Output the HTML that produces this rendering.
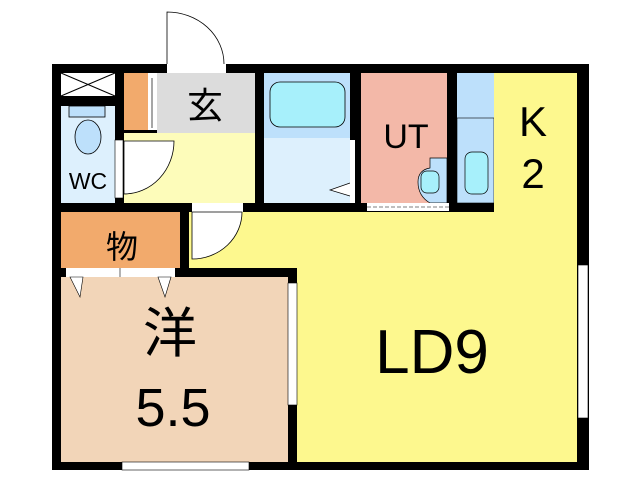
<!DOCTYPE html>
<html><head><meta charset="utf-8"><style>
html,body{margin:0;padding:0;background:#fff;width:640px;height:480px;overflow:hidden}
text{font-family:"Liberation Sans","Noto Sans CJK JP",sans-serif;fill:#000}
</style></head><body>
<svg width="640" height="480" viewBox="0 0 640 480" xmlns="http://www.w3.org/2000/svg">
<rect x="52" y="64" width="537" height="406" fill="#000"/>
<rect x="61" y="73" width="54" height="23" fill="#fff"/>
<path d="M61 73 L115 96 M115 73 L61 96" stroke="#000" stroke-width="1"/>
<rect x="61" y="106" width="54" height="97" fill="#ddf0fd"/>
<rect x="69" y="106" width="36" height="11" fill="#bde0fb" stroke="#000" stroke-width="0.8"/>
<ellipse cx="88" cy="137" rx="13" ry="17" fill="#bde0fb" stroke="#000" stroke-width="0.8"/>
<rect x="124" y="73" width="24" height="57" fill="#f2aa6c"/>
<rect x="148" y="73" width="9" height="57" fill="#fff"/>
<line x1="152" y1="78" x2="152" y2="128" stroke="#000" stroke-width="0.7"/>
<rect x="157" y="73" width="98" height="60" fill="#dcdcdc"/>
<rect x="124" y="133" width="131" height="70" fill="#fdfcba"/>
<rect x="115" y="140" width="8" height="58" fill="#fff" stroke="#000" stroke-width="0.6"/>
<path d="M124 141 L174 141 A50 53 0 0 1 124 194 Z" fill="#fff" stroke="#000" stroke-width="0.8"/>
<rect x="264" y="73" width="86" height="65" fill="#bde0fb"/>
<rect x="270" y="82" width="75" height="45" rx="10" fill="#a7f0fb" stroke="#000" stroke-width="0.8"/>
<rect x="264" y="138" width="86" height="65" fill="#ddf0fd"/>
<path d="M350 183 L330 190 L350 196" fill="#fff" stroke="#000" stroke-width="0.7"/>
<rect x="350" y="140" width="5" height="63" fill="#fff"/>
<rect x="361" y="73" width="86" height="130" fill="#f3b8a8"/>
<path d="M430 158 L447 158 L447 203 L430 203 Q418 196 418 182 Q418 170 430 168 Z" fill="#bde0fb" stroke="#000" stroke-width="0.7"/>
<rect x="421" y="171" width="18" height="22" rx="6" fill="#a7f0fb" stroke="#000" stroke-width="0.7"/>
<rect x="367" y="203" width="82" height="8" fill="#fff"/>
<line x1="367" y1="207" x2="449" y2="207" stroke="#000" stroke-width="0.6" stroke-dasharray="4 2"/>
<rect x="457" y="73" width="37" height="45" fill="#bde0fb"/>
<rect x="457" y="118" width="37" height="85" fill="#bde0fb" stroke="#000" stroke-width="0.6"/>
<rect x="465" y="152" width="23" height="42" rx="7" fill="#a7f0fb" stroke="#000" stroke-width="0.7"/>
<rect x="494" y="73" width="83" height="139" fill="#fdf88e"/>
<rect x="189" y="212" width="388" height="56" fill="#fdf88e"/>
<rect x="297" y="268" width="280" height="194" fill="#fdf88e"/>
<rect x="61" y="212" width="119" height="56" fill="#f2aa6c"/>
<rect x="66" y="268" width="109" height="9" fill="#fff"/>
<line x1="120" y1="268" x2="120" y2="277" stroke="#000" stroke-width="0.6"/>
<rect x="61" y="277" width="227" height="185" fill="#f2d5b8"/>
<path d="M70 277 L80 297 L83 277 Z M158 277 L165 297 L171 277 Z" fill="#fff" stroke="#000" stroke-width="0.6"/>
<rect x="288" y="283" width="9" height="122" fill="#fff" stroke="#000" stroke-width="0.6"/>
<rect x="578" y="265" width="10" height="153" fill="#fff" stroke="#000" stroke-width="0.6"/>
<rect x="122" y="462" width="127" height="8" fill="#fff" stroke="#000" stroke-width="0.6"/>
<rect x="167" y="64" width="59" height="9" fill="#fff"/>
<path d="M167 64 L167 12 A57 52 0 0 1 224 64" fill="#fff" stroke="#000" stroke-width="0.8"/>
<rect x="192" y="203" width="51" height="9" fill="#fff"/>
<path d="M192 212 L242 212 A50 47 0 0 1 192 259 Z" fill="#fff" stroke="#000" stroke-width="0.8"/>
<text x="205" y="118" font-size="36" text-anchor="middle">玄</text>
<text x="88" y="189" font-size="23" text-anchor="middle">WC</text>
<text x="406" y="148" font-size="34" text-anchor="middle">UT</text>
<text x="533" y="136" font-size="42" text-anchor="middle">K</text>
<text x="533" y="188" font-size="42" text-anchor="middle">2</text>
<text x="122" y="258" font-size="32" text-anchor="middle">物</text>
<text x="170" y="352" font-size="54" text-anchor="middle">洋</text>
<text x="173" y="426" font-size="54" text-anchor="middle">5.5</text>
<text x="432" y="373" font-size="62" text-anchor="middle">LD9</text>
</svg>
</body></html>
